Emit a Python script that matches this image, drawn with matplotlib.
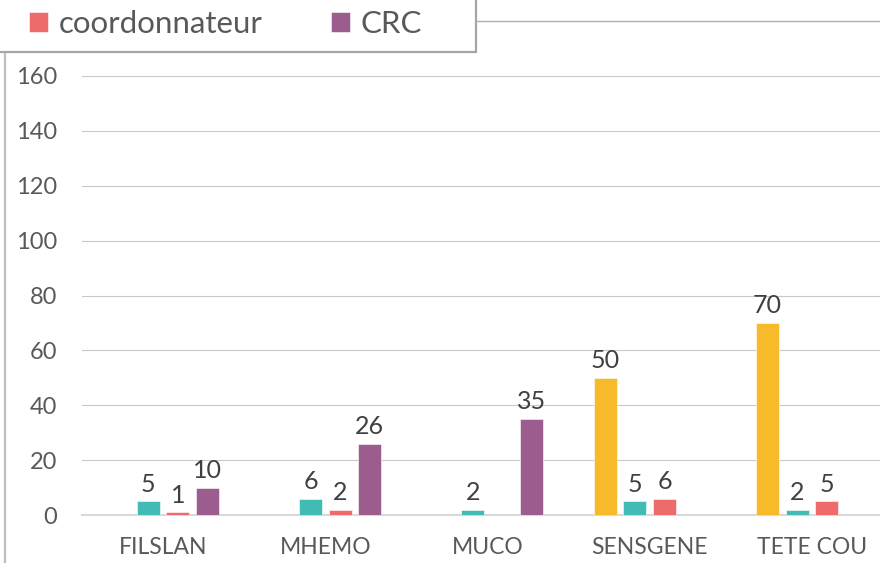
import matplotlib
matplotlib.use("Agg")
import matplotlib.pyplot as plt
from matplotlib.patches import Rectangle
from matplotlib.lines import Line2D
import numpy as np

### Données ###
categories = ["FILSLAN", "MHEMO", "MUCO", "SENSGENE", "TETE COU"]
nan = np.nan
serie_jaune = [nan, nan, nan, 50, 70]
serie_turquoise = [5, 6, 2, 5, 2]
coordonnateur = [1, 2, nan, 6, 5]
crc = [10, 26, 35, nan, nan]
y_ticks = [0, 20, 40, 60, 80, 100, 120, 140, 160]

series = [
    ("_jaune", serie_jaune, "#F6BA2B"),
    ("_turquoise", serie_turquoise, "#41BBB3"),
    ("coordonnateur", coordonnateur, "#EE6B6B"),
    ("CRC", crc, "#9D5C8E"),
]

plt.rcParams["font.family"] = ["Lato", "DejaVu Sans"]
txt_color = "#595959"

W, H = 880, 563
fig = plt.figure(figsize=(W / 100, H / 100), dpi=100)
ax = fig.add_axes([82 / W, (H - 515) / H, 811 / W, (515 - 76) / H])

x = np.arange(len(categories))
step = 0.182
width = 0.142
handles = {}
for i, (name, vals, col) in enumerate(series):
    pos = x + (i - 1.5) * step
    bars = ax.bar(pos, vals, width, color=col, label=name, edgecolor="white", linewidth=0.4, zorder=3)
    handles[name] = bars
    for xp, v in zip(pos, vals):
        if not np.isnan(v):
            ax.annotate(f"{v:g}", (xp, v), xytext=(0, 4), textcoords="offset points",
                        ha="center", va="bottom", fontsize=18, color="#404040")

ax.set_xlim(-0.5, len(categories) - 0.5)
ax.set_ylim(0, 160)
ax.set_yticks(y_ticks)
ax.set_xticks(x)
ax.set_xticklabels(categories)
ax.tick_params(axis="both", length=0, labelsize=17, labelcolor=txt_color)
ax.tick_params(axis="x", pad=16, labelsize=16.5)
ax.tick_params(axis="y", pad=18)
ax.grid(axis="y", color="#c9c9c9", linewidth=0.8, zorder=0)
for s in ["top", "right", "left"]:
    ax.spines[s].set_visible(False)
ax.spines["bottom"].set_color("#d9d9d9")
ax.spines["bottom"].set_linewidth(1.5)

### Légende (cadre coupé comme sur l'image) ###
fig.add_artist(Rectangle((-10 / W, 1 - 52 / H), 486 / W, 80 / H, transform=fig.transFigure,
                         facecolor="white", edgecolor="#a6a6a6", linewidth=1.6, zorder=5))
fig.add_artist(Line2D([476 / W, 1], [1 - 21 / H] * 2, transform=fig.transFigure,
                      color="#b0b0b0", linewidth=1.0))
fig.add_artist(Line2D([5 / W, 5 / W], [0, 1 - 52 / H], transform=fig.transFigure,
                      color="#bfbfbf", linewidth=1.6))
leg = fig.legend([handles["coordonnateur"], handles["CRC"]], ["coordonnateur", "CRC"],
                 loc="center left", bbox_to_anchor=(29 / W, 1 - 24 / H), ncol=2, frameon=False,
                 fontsize=22.5, handlelength=0.6, handleheight=0.6, handletextpad=0.35,
                 columnspacing=2.2, borderaxespad=0, borderpad=0)
leg.set_zorder(6)
for t in leg.get_texts():
    t.set_color(txt_color)

fig.savefig("out.png", dpi=100)
